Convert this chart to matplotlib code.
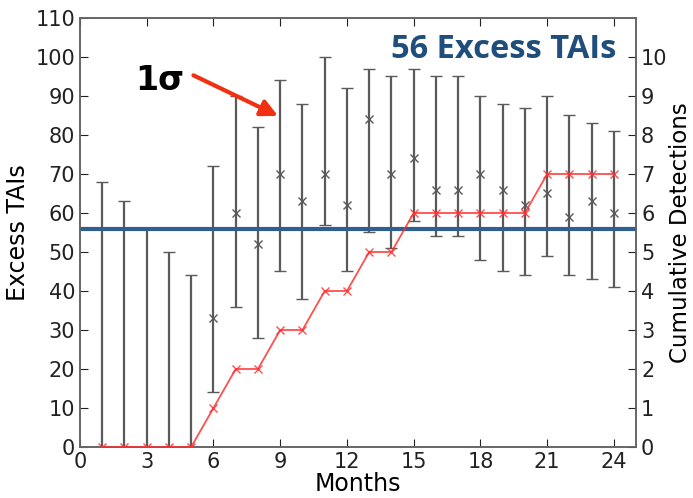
import numpy as np
import matplotlib
matplotlib.use("Agg")
import matplotlib.pyplot as plt

# excess TAIs per month: centre, upper end, lower end of the 1 sigma bars
months = np.arange(1, 25)
excess = [-20, -25, -30, -35, -40, 33, 60, 52, 70, 63, 70, 62,
          84, 70, 74, 66, 66, 70, 66, 62, 65, 59, 63, 60]
upper = [68, 63, 56, 50, 44, 72, 90, 82, 94, 88, 100, 92,
         97, 95, 97, 95, 95, 90, 88, 87, 90, 85, 83, 81]
lower = [-60, -65, -70, -75, -80, 14, 36, 28, 45, 38, 57, 45,
         55, 51, 58, 54, 54, 48, 45, 44, 49, 44, 43, 41]
detections = [0, 0, 0, 0, 0, 1, 2, 2, 3, 3, 4, 4,
              5, 5, 6, 6, 6, 6, 6, 6, 7, 7, 7, 7]
expected = 56

plt.rcParams['xtick.direction'] = 'in'
plt.rcParams['ytick.direction'] = 'in'

fig = plt.figure(figsize=(6.93, 4.98), dpi=100)
ax = fig.add_axes([0.1154, 0.1024, 0.8026, 0.8615])

excess = np.array(excess)
yerr = [excess - np.array(lower), np.array(upper) - excess]
ax.errorbar(months, excess, yerr=yerr, fmt='x', color='#5a5a5a', ms=6,
            mew=1, elinewidth=1.6, capsize=4, capthick=1.4, zorder=2)
ax.axhline(expected, color='#2f5f8f', lw=3, zorder=3)

ax.set_xlim(0, 25)
ax.set_ylim(0, 110)
ax.set_xticks(range(0, 25, 3))
ax.set_yticks(range(0, 111, 10))
ax.tick_params(labelsize=15, length=6, top=True, right=False, colors='#222222')
ax.set_xlabel('Months', fontsize=17, labelpad=0)
ax.set_ylabel('Excess TAIs', fontsize=17, labelpad=4)

ax2 = ax.twinx()
ax2.plot(months, detections, color='#ff3030', marker='x', ms=6, mew=1,
         lw=1.3, alpha=0.85, zorder=4)
ax2.set_ylim(0, 11)
ax2.set_yticks(range(0, 11))
ax2.tick_params(labelsize=15, length=6, colors='#222222')
ax2.set_ylabel('Cumulative Detections', fontsize=16.5, labelpad=1)

for a in (ax, ax2):
    for s in a.spines.values():
        s.set_color('#666666')
        s.set_linewidth(1.2)

ax.text(24.13, 101.8, '56 Excess TAIs', ha='right', va='center', fontsize=23.5,
        fontweight='bold', color='#1f4e7c', family='Open Sans')
ax.text(4.7, 94, '1σ', ha='right', va='center', fontsize=24, fontweight='bold')
ax.annotate('', xy=(8.9, 84.9), xytext=(5.1, 95.3),
            arrowprops=dict(arrowstyle='-|>', color='#f03010', lw=3,
                            mutation_scale=25, shrinkA=0, shrinkB=0))

fig.savefig('out.png', dpi=100)
